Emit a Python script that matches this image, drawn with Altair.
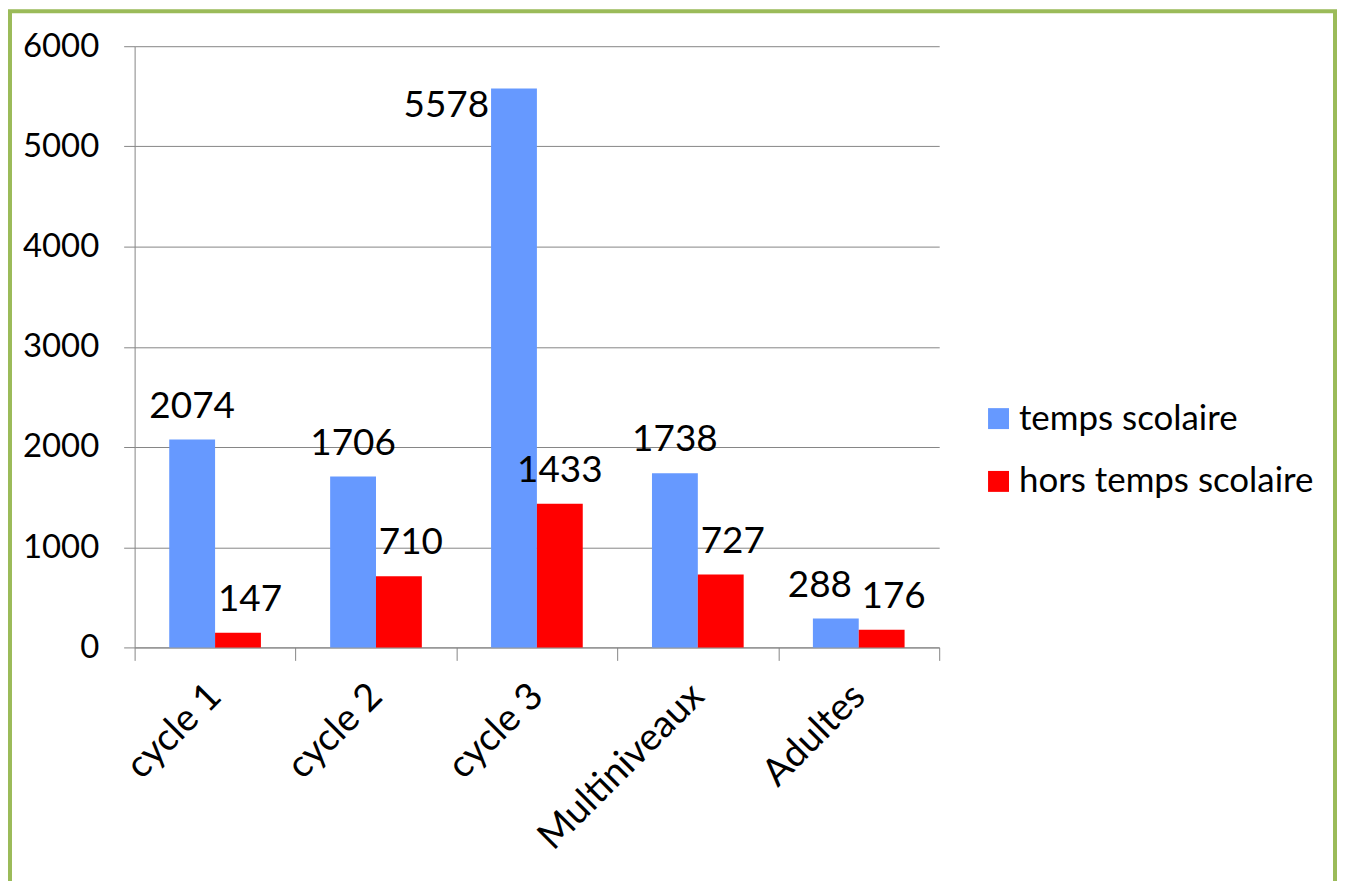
import altair as alt
import pandas as pd

categories = ["cycle 1", "cycle 2", "cycle 3", "Multiniveaux", "Adultes"]
temps_scolaire = [2074, 1706, 5578, 1738, 288]
hors_temps_scolaire = [147, 710, 1433, 727, 176]
series = ["temps scolaire", "hors temps scolaire"]
colors = ["#6699FF", "#FF0000"]
y_ticks = [0, 1000, 2000, 3000, 4000, 5000, 6000]

rows = []
for c, a, b in zip(categories, temps_scolaire, hors_temps_scolaire):
    rows.append({"cat": c, "serie": series[0], "val": a})
    rows.append({"cat": c, "serie": series[1], "val": b})
df = pd.DataFrame(rows)

FONT = "Lato"
FS_AXIS = 33
FS_X = 38
FS_LAB = 37
FS_LEG = 35
GRID = "#868686"
W, H = 807, 603

x = alt.X("cat:N", sort=categories,
          scale=alt.Scale(paddingInner=0, paddingOuter=0),
          axis=alt.Axis(title=None, labelAngle=-45, labelAlign="right", labelBaseline="middle",
                        tickBand="extent", tickSize=13, labelPadding=30, labelLimit=0,
                        labelFont=FONT, labelFontSize=FS_X, labelColor="black",
                        domainColor=GRID, tickColor=GRID, grid=False))
xo = alt.XOffset("serie:N", sort=series, scale=alt.Scale(paddingOuter=0.755, paddingInner=0))
y = alt.Y("val:Q", scale=alt.Scale(domain=[0, 6000], nice=False),
          axis=alt.Axis(title=None, values=y_ticks, format="d", tickSize=11, labelPadding=25,
                        labelFont=FONT, labelFontSize=FS_AXIS, labelColor="black",
                        grid=True, gridColor=GRID, domainColor=GRID, tickColor=GRID))
color = alt.Color("serie:N", sort=series,
                  scale=alt.Scale(domain=series, range=colors),
                  legend=alt.Legend(title=None, orient="none", legendX=849, legendY=356,
                                    symbolType="square", symbolSize=441, symbolStrokeWidth=0,
                                    labelFont=FONT, labelFontSize=FS_LEG, labelColor="black",
                                    labelLimit=0, rowPadding=27, labelOffset=3))

base = alt.Chart(df)
bars = base.mark_bar().encode(x=x, xOffset=xo, y=y, color=color)

def lab(filt, **kw):
    opts = dict(font=FONT, fontSize=FS_LAB, color="black", baseline="alphabetic", dy=-22)
    opts.update(kw)
    return base.transform_filter(filt).mark_text(**opts).encode(
        x=x, xOffset=xo, y=y, text=alt.Text("val:Q"))

labels_mid = lab((alt.datum.val >= 1000) & (alt.datum.val < 5000))
labels_top = lab(alt.datum.val >= 5000, baseline="middle", align="right", dx=-25, dy=18)
labels_small_hors = lab((alt.datum.val < 1000) & (alt.datum.serie == series[1]), dx=12)
labels_small_temps = lab((alt.datum.val < 1000) & (alt.datum.serie == series[0]), dx=-16)

frame = alt.Chart(pd.DataFrame({"k": [0]})).mark_rect(
    filled=False, stroke="#9BBB59", strokeWidth=4
).encode(x=alt.value(-125), x2=alt.value(1204), y=alt.value(-35), y2=alt.value(860))

chart = alt.layer(bars, labels_mid, labels_top, labels_small_hors, labels_small_temps, frame).properties(
    width=W, height=H,
    autosize=alt.AutoSizeParams(type="none"),
    padding={"left": 127, "top": 37, "right": 399, "bottom": 247},
).configure_view(stroke=None)

chart.save("out.html", embed_options={"renderer": "svg", "actions": False})
